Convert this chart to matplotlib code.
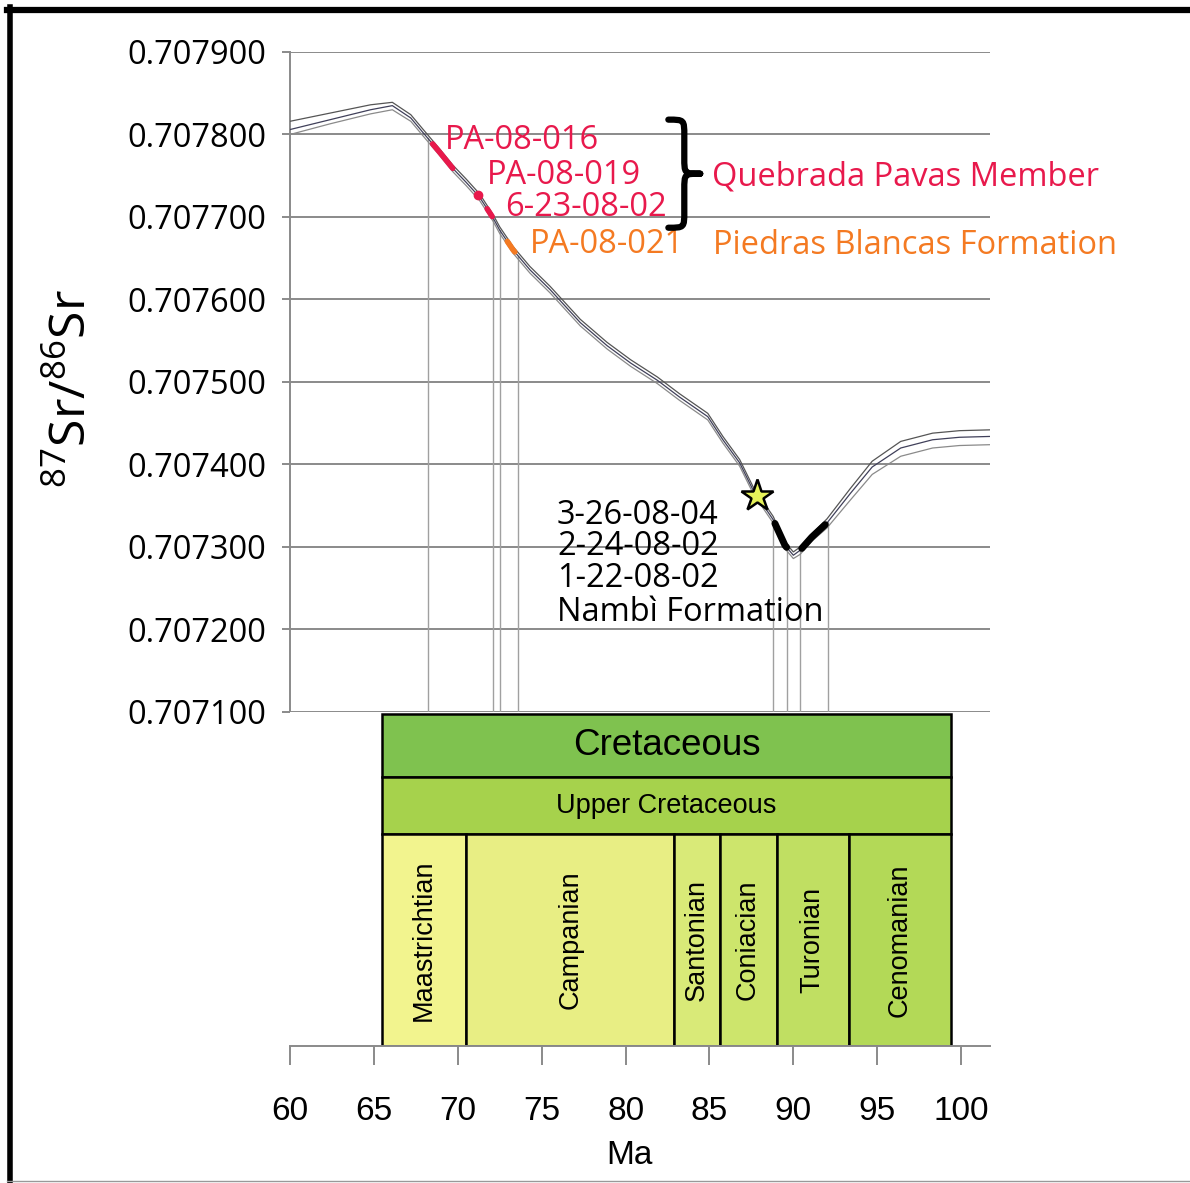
import numpy as np
import matplotlib.pyplot as plt
from matplotlib.lines import Line2D
from matplotlib.patches import Rectangle, PathPatch
from matplotlib.path import Path

plt.rcParams['font.family'] = ['Open Sans', 'DejaVu Sans']
plt.rcParams['mathtext.fontset'] = 'custom'
plt.rcParams['mathtext.rm'] = 'Open Sans'

# seawater 87Sr/86Sr reference curve (mean) and envelope widths (x1e-6)
age = [60, 62.4, 64.8, 66.1, 67.2, 67.9, 68.9, 69.7, 70.5, 71.3, 72.1, 72.5,
       73.3, 74.3, 75.5, 77.3, 78.9, 80.3, 81.9, 83.2, 84.9, 85.8, 86.8, 87.6,
       88.8, 89.5, 90.0, 90.4, 91.1, 92.0, 93.4, 94.7, 96.4, 98.3, 99.9, 101.7]
sr_mean = [0.707806, 0.707818, 0.707830, 0.707835, 0.707820, 0.707803,
           0.707779, 0.707759, 0.707742, 0.707724, 0.707699, 0.707684,
           0.707660, 0.707636, 0.707612, 0.707572, 0.707544, 0.707523,
           0.707502, 0.707482, 0.707458, 0.707430, 0.707402, 0.707369,
           0.707333, 0.707302, 0.707290, 0.707296, 0.707312, 0.707329,
           0.707365, 0.707397, 0.707420, 0.707430, 0.707433, 0.707434]
band_up = [10, 8, 6, 4, 4, 4, 4, 4, 4, 4, 4, 4, 4, 4, 4, 4, 4, 4,
           4, 4, 4, 4, 4, 4, 4, 4, 4, 4, 4, 5, 6, 7, 8, 8, 8, 8]
band_lo = [6, 5, 5, 5, 4, 4, 4, 4, 4, 4, 4, 4, 4, 4, 4, 4, 4, 4,
           4, 4, 4, 4, 4, 4, 4, 4, 4, 5, 5, 6, 8, 9, 10, 10, 10, 10]

# sample age ranges
qp_bars = [(68.5, 69.7), (71.75, 72.05)]
qp_dot = 71.2
pb_bar = (72.95, 73.4)
nambi_bars = [(88.9, 89.6), (90.5, 91.9)]
star_age = 87.83
drop_lines = [68.2, 72.1, 72.5, 73.6, 88.8, 89.6, 90.4, 92.05]
nambi_samples = ['3-26-08-04', '2-24-08-02', '1-22-08-02']

# ICS time scale
stage_names = ['Maastrichtian', 'Campanian', 'Santonian', 'Coniacian', 'Turonian', 'Cenomanian']
stage_bounds = [65.5, 70.5, 82.9, 85.6, 89.0, 93.3, 99.4]
stage_colors = ['#F2F48E', '#E8EE84', '#D9EA78', '#CDE56C', '#C0DF62', '#B3D957']

yticks = [0.7071, 0.7072, 0.7073, 0.7074, 0.7075, 0.7076, 0.7077, 0.7078, 0.7079]
xticks = [60, 65, 70, 75, 80, 85, 90, 95, 100]

RED = '#E8194C'
ORANGE = '#F47A22'
W, H = 1190, 1183
XLIM = (60, 101.72)

fig = plt.figure(figsize=(W / 100, H / 100), dpi=100)
ax = fig.add_axes([290 / W, 1 - 712 / H, 700 / W, 660 / H])
ax.set_xlim(*XLIM)
ax.set_ylim(0.7071, 0.7079)

age = np.array(age)
sr_mean = np.array(sr_mean)
up = sr_mean + np.array(band_up) * 1e-6
lo = sr_mean - np.array(band_lo) * 1e-6

for s in ['top', 'right', 'bottom']:
    ax.spines[s].set_visible(False)
ax.spines['left'].set_color('#8a8a8a')
ax.spines['left'].set_linewidth(1.4)
ax.set_xticks([])
ax.set_yticks(yticks)
ax.set_yticklabels(['%.6f' % v for v in yticks], fontsize=23.5)
ax.tick_params(axis='y', length=6, width=1.4, color='#8a8a8a', pad=11)
ax.yaxis.grid(True, color='#8a8a8a', lw=1.4)
ax.set_axisbelow(True)

# vertical drop lines from the curve
for a in drop_lines:
    ax.plot([a, a], [0.7071, np.interp(a, age, sr_mean)], color='#a0a0a0', lw=1.0, zorder=2)

ax.plot(age, up, color='#555555', lw=0.9, zorder=3)
ax.plot(age, lo, color='#8a8a8a', lw=0.9, zorder=3)
ax.plot(age, sr_mean, color='#40405a', lw=0.9, zorder=3)


def on_curve(a0, a1):
    t = np.linspace(a0, a1, 20)
    return t, np.interp(t, age, sr_mean)


for a0, a1 in qp_bars:
    ax.plot(*on_curve(a0, a1), color=RED, lw=4, solid_capstyle='round', zorder=4)
ax.plot(qp_dot, np.interp(qp_dot, age, sr_mean), 'o', color=RED, ms=6, zorder=4)
ax.plot(*on_curve(*pb_bar), color=ORANGE, lw=4, solid_capstyle='round', zorder=4)
for a0, a1 in nambi_bars:
    ax.plot(*on_curve(a0, a1), color='black', lw=5, solid_capstyle='round', zorder=4)
ax.plot(star_age, np.interp(star_age, age, sr_mean), marker='*', ms=24,
        mfc='#E6F25A', mec='black', mew=1.8, zorder=5)

# sample labels
fs = 23.5
ax.text(69.24, 0.707793, 'PA-08-016', color=RED, fontsize=fs, va='center')
ax.text(71.74, 0.707750, 'PA-08-019', color=RED, fontsize=fs, va='center')
ax.text(72.81, 0.707712, '6-23-08-02', color=RED, fontsize=fs, va='center')
ax.text(74.30, 0.707667, 'PA-08-021', color=ORANGE, fontsize=fs, va='center')
ax.text(85.15, 0.707748, 'Quebrada Pavas Member', color=RED, fontsize=fs,
        va='center', clip_on=False)
ax.text(85.21, 0.707666, 'Piedras Blancas Formation', color=ORANGE, fontsize=fs,
        va='center', clip_on=False)
ax.text(75.91, 0.707300, '\n'.join(nambi_samples), color='black', fontsize=fs,
        va='center', linespacing=0.93)
ax.text(75.91, 0.707220, 'Nambì Formation', color='black', fontsize=fs, va='center')

# curly brace grouping the Quebrada Pavas samples
x0, x1 = 82.55, 84.45
yt, yb = 0.707818, 0.707687
xm = (x0 + x1) / 2
ym = (yt + yb) / 2
h = yt - yb
verts = [(x0, yt), (xm, yt), (xm, yt), (xm, yt - 0.15 * h),
         (xm, ym + 0.15 * h), (xm, ym), (xm, ym), (x1, ym),
         (xm, ym), (xm, ym), (xm, ym - 0.15 * h),
         (xm, yb + 0.15 * h), (xm, yb), (xm, yb), (x0, yb)]
codes = [Path.MOVETO, Path.CURVE4, Path.CURVE4, Path.CURVE4,
         Path.LINETO, Path.CURVE4, Path.CURVE4, Path.CURVE4,
         Path.CURVE4, Path.CURVE4, Path.CURVE4,
         Path.LINETO, Path.CURVE4, Path.CURVE4, Path.CURVE4]
ax.add_patch(PathPatch(Path(verts, codes), fill=False, lw=4.5, color='black',
                       capstyle='round', joinstyle='round', zorder=5))

# geologic time scale under the curve
tx = fig.add_axes([290 / W, 1 - 1046 / H, 700 / W, 334 / H])
tx.set_xlim(*XLIM)
tx.set_ylim(0, 1)
for s in ['top', 'right', 'left']:
    tx.spines[s].set_visible(False)
tx.spines['bottom'].set_color('#8a8a8a')
tx.spines['bottom'].set_linewidth(1.4)
tx.set_yticks([])
tx.set_xticks(xticks)
tx.set_xticklabels([str(v) for v in xticks], fontsize=24, family='Liberation Sans')
tx.tick_params(axis='x', length=14, width=1.4, color='#8a8a8a', pad=22)

y_stage, y_upper, y_top = 0.635, 0.805, 0.994
left, right = stage_bounds[0], stage_bounds[-1]
tx.add_patch(Rectangle((left, y_upper), right - left, y_top - y_upper,
                       fc='#7FC24F', ec='black', lw=1.8))
tx.text((left + right) / 2, (y_upper + y_top) / 2, 'Cretaceous', fontsize=26.5,
        ha='center', va='center', family='Liberation Sans')
tx.add_patch(Rectangle((left, y_stage), right - left, y_upper - y_stage,
                       fc='#A6D24C', ec='black', lw=1.8))
tx.text((left + right) / 2, (y_stage + y_upper) / 2, 'Upper Cretaceous', fontsize=19.5,
        ha='center', va='center', family='Liberation Sans')
for i, name in enumerate(stage_names):
    a0, a1 = stage_bounds[i], stage_bounds[i + 1]
    tx.add_patch(Rectangle((a0, 0), a1 - a0, y_stage, fc=stage_colors[i], ec='black', lw=1.8))
    tx.text((a0 + a1) / 2, y_stage / 2, name, rotation=90, fontsize=19.5,
            ha='center', va='center', family='Liberation Sans')

fig.text(629 / W, 1 - 1155 / H, 'Ma', fontsize=24, ha='center', va='center',
         family='Liberation Sans')
fig.text(73 / W, 1 - 388 / H, r'$^{87}$Sr/$^{86}$Sr', fontsize=36, rotation=90,
         ha='center', va='center')

# frame around the figure
fig.add_artist(Line2D([7 / W, 1], [1 - 10 / H, 1 - 10 / H], color='black', lw=4.5,
                      transform=fig.transFigure))
fig.add_artist(Line2D([9.5 / W, 9.5 / W], [0, 1 - 7 / H], color='black', lw=4,
                      transform=fig.transFigure))
fig.add_artist(Line2D([7 / W, 1], [1 - 1181 / H, 1 - 1181 / H], color='#999999', lw=1,
                      transform=fig.transFigure))

fig.savefig('out.png', dpi=100)
